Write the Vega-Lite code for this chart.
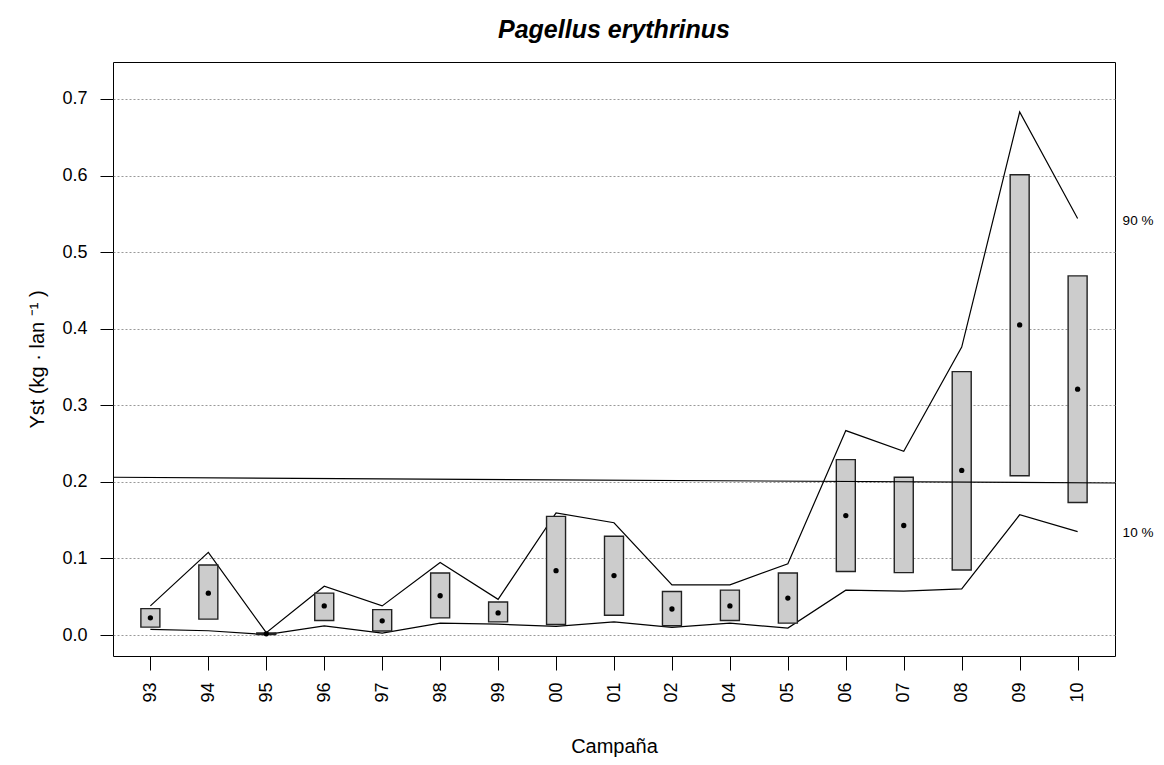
{
  "$schema": "https://vega.github.io/schema/vega-lite/v6.json",
  "width": 1002,
  "height": 594,
  "autosize": {"type": "none"},
  "padding": {"left": 113, "top": 62, "right": 49, "bottom": 109},
  "background": "white",
  "config": {
    "font": "Liberation Sans",
    "view": {"stroke": "black", "strokeWidth": 1},
    "axis": {
      "domain": false,
      "tickColor": "black",
      "labelColor": "black",
      "titleColor": "black",
      "labelFont": "Liberation Sans",
      "titleFont": "Liberation Sans",
      "titleFontWeight": "normal",
      "labelFontSize": 18,
      "titleFontSize": 18
    }
  },
  "title": {
    "text": "Pagellus erythrinus",
    "fontSize": 25,
    "fontStyle": "italic",
    "fontWeight": "bold",
    "font": "Liberation Sans",
    "color": "black",
    "anchor": "middle",
    "baseline": "bottom",
    "offset": 20,
    "dy": 26
  },
  "datasets": {
    "camp": [
      {"year": "93", "mean": 0.0224, "lo": 0.0103, "hi": 0.0345, "p10": 0.0073, "p90": 0.038},
      {"year": "94", "mean": 0.0547, "lo": 0.0207, "hi": 0.0914, "p10": 0.0056, "p90": 0.108},
      {"year": "95", "mean": 0.0016, "lo": 0.0006, "hi": 0.0026, "p10": 0.0005, "p90": 0.003},
      {"year": "96", "mean": 0.038, "lo": 0.019, "hi": 0.0547, "p10": 0.012, "p90": 0.0638},
      {"year": "97", "mean": 0.0185, "lo": 0.0052, "hi": 0.0332, "p10": 0.0026, "p90": 0.038},
      {"year": "98", "mean": 0.0513, "lo": 0.0224, "hi": 0.081, "p10": 0.0155, "p90": 0.0948},
      {"year": "99", "mean": 0.0289, "lo": 0.0172, "hi": 0.0431, "p10": 0.0142, "p90": 0.0466},
      {"year": "00", "mean": 0.084, "lo": 0.0138, "hi": 0.155, "p10": 0.0112, "p90": 0.1595},
      {"year": "01", "mean": 0.0776, "lo": 0.0259, "hi": 0.129, "p10": 0.0172, "p90": 0.1466},
      {"year": "02", "mean": 0.034, "lo": 0.0121, "hi": 0.0569, "p10": 0.0099, "p90": 0.0655},
      {"year": "04", "mean": 0.038, "lo": 0.019, "hi": 0.0586, "p10": 0.0155, "p90": 0.0655},
      {"year": "05", "mean": 0.0483, "lo": 0.0155, "hi": 0.081, "p10": 0.009, "p90": 0.0931},
      {"year": "06", "mean": 0.156, "lo": 0.083, "hi": 0.229, "p10": 0.0586, "p90": 0.267},
      {"year": "07", "mean": 0.143, "lo": 0.0815, "hi": 0.206, "p10": 0.0573, "p90": 0.24},
      {"year": "08", "mean": 0.215, "lo": 0.085, "hi": 0.344, "p10": 0.0603, "p90": 0.376},
      {"year": "09", "mean": 0.405, "lo": 0.208, "hi": 0.601, "p10": 0.157, "p90": 0.683},
      {"year": "10", "mean": 0.321, "lo": 0.173, "hi": 0.469, "p10": 0.135, "p90": 0.544}
    ],
    "labels": [
      {"lab": "90 %", "v": 0.541},
      {"lab": "10 %", "v": 0.133}
    ],
    "trend": [
      {"t": 0, "v": 0.206},
      {"t": 1, "v": 0.1985}
    ]
  },
  "layer": [
    {
      "data": {"name": "camp"},
      "layer": [
        {
          "mark": {"type": "line", "color": "black", "strokeWidth": 1.2},
          "encoding": {
            "x": {
              "field": "year", "type": "ordinal",
              "sort": ["93","94","95","96","97","98","99","00","01","02","04","05","06","07","08","09","10"],
              "scale": {"type": "point", "padding": 0.645},
              "axis": {
                "title": "Campaña",
                "labelAngle": 270,
                "tickSize": 14,
                "labelPadding": 12,
                "titlePadding": 34,
                "titleFontSize": 20,
                "grid": false
              }
            },
            "y": {
              "field": "p90", "type": "quantitative",
              "scale": {"domain": [-0.0274, 0.7483], "nice": false, "zero": false},
              "axis": {
                "title": "Yst (kg · lan ⁻¹ )",
                "titleFontSize": 20,
                "values": [0, 0.1, 0.2, 0.3, 0.4, 0.5, 0.6, 0.7],
                "format": ".1f",
                "tickSize": 13,
                "labelPadding": 13,
                "titlePadding": 14,
                "grid": true,
                "gridColor": "#999999",
                "gridDash": [2, 2],
                "gridWidth": 1
              }
            }
          }
        },
        {
          "mark": {"type": "line", "color": "black", "strokeWidth": 1.2},
          "encoding": {
            "x": {"field": "year", "type": "ordinal", "sort": ["93","94","95","96","97","98","99","00","01","02","04","05","06","07","08","09","10"]},
            "y": {"field": "p10", "type": "quantitative", "scale": {"domain": [-0.0274, 0.7483], "nice": false, "zero": false}}
          }
        },
        {
          "mark": {"type": "bar", "fill": "#cccccc", "stroke": "#222222", "strokeWidth": 1.4, "size": 19},
          "encoding": {
            "x": {"field": "year", "type": "ordinal", "sort": ["93","94","95","96","97","98","99","00","01","02","04","05","06","07","08","09","10"]},
            "y": {"field": "lo", "type": "quantitative", "scale": {"domain": [-0.0274, 0.7483], "nice": false, "zero": false}},
            "y2": {"field": "hi"}
          }
        },
        {
          "mark": {"type": "point", "shape": "circle", "filled": true, "color": "black", "opacity": 1, "size": 28},
          "encoding": {
            "x": {"field": "year", "type": "ordinal", "sort": ["93","94","95","96","97","98","99","00","01","02","04","05","06","07","08","09","10"]},
            "y": {"field": "mean", "type": "quantitative", "scale": {"domain": [-0.0274, 0.7483], "nice": false, "zero": false}}
          }
        },
        {
          "data": {"name": "labels"},
          "mark": {"type": "text", "align": "left", "baseline": "middle", "dx": 45, "fontSize": 13.5, "color": "black", "font": "Liberation Sans"},
          "encoding": {
            "x": {"datum": "10", "type": "ordinal"},
            "y": {"field": "v", "type": "quantitative", "scale": {"domain": [-0.0274, 0.7483], "nice": false, "zero": false}},
            "text": {"field": "lab"}
          }
        }
      ]
    },
    {
      "data": {"name": "trend"},
      "mark": {"type": "line", "color": "black", "strokeWidth": 1.2},
      "encoding": {
        "x": {"field": "t", "type": "quantitative", "scale": {"domain": [0, 1], "nice": false, "zero": false}, "axis": null},
        "y": {"field": "v", "type": "quantitative", "scale": {"domain": [-0.0274, 0.7483], "nice": false, "zero": false}}
      }
    }
  ],
  "resolve": {"scale": {"x": "independent"}}
}
